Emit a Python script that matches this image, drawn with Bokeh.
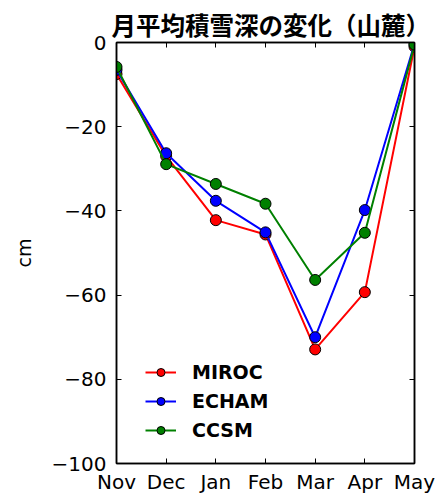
from bokeh.plotting import figure
from bokeh.models import LinearAxis, FixedTicker, Legend, LegendItem, Range1d
from bokeh.embed import file_html
from bokeh.resources import INLINE

months = ["Nov", "Dec", "Jan", "Feb", "Mar", "Apr", "May"]
miroc = [-7.5, -27.0, -42.2, -45.6, -72.9, -59.3, -1.0]
echam = [-6.5, -26.3, -37.6, -45.1, -70.0, -39.8, -0.3]
ccsm = [-5.8, -28.9, -33.6, -38.3, -56.4, -45.2, -0.5]
y_ticks = [-100, -80, -60, -40, -20, 0]
title_text = "月平均積雪深の変化（山麓）"

xs = list(range(len(months)))

p = figure(width=438, height=498, x_range=Range1d(0, 6), y_range=Range1d(-100, 0),
           output_backend="svg", toolbar_location=None,
           min_border_left=116, min_border_right=24, min_border_top=42, min_border_bottom=35)
p.grid.visible = False
p.background_fill_color = "white"
p.border_fill_color = "white"
p.outline_line_color = "black"
p.outline_line_width = 1.5

p.title.text = title_text
p.title.text_font = "Noto Sans CJK JP"
p.title.text_font_size = "24.5px"
p.title.text_font_style = "bold"
p.title.text_color = "black"
p.title.align = "left"
p.title.offset = -5
p.title.standoff = 2

tick_font = "DejaVu Sans"
xaxis = p.xaxis[0]
yaxis = p.yaxis[0]
xaxis.ticker = FixedTicker(ticks=xs)
xaxis.major_label_overrides = {i: m for i, m in enumerate(months)}
yaxis.ticker = FixedTicker(ticks=y_ticks)
yaxis.major_label_overrides = {t: ("−" + str(-t) if t < 0 else str(t)) for t in y_ticks}
yaxis.axis_label = "cm"
yaxis.axis_label_text_font = tick_font
yaxis.axis_label_text_font_size = "19px"
yaxis.axis_label_text_font_style = "normal"
yaxis.axis_label_text_color = "black"
yaxis.axis_label_standoff = 14
for ax in (xaxis, yaxis):
    ax.major_label_text_font = tick_font
    ax.major_label_text_font_size = "20px"
    ax.major_label_text_color = "black"
    ax.major_tick_in = 5
    ax.major_tick_out = 0
    ax.minor_tick_line_color = None
    ax.axis_line_width = 1.5
    ax.major_tick_line_width = 1
xaxis.major_label_standoff = 6
yaxis.major_label_standoff = 10

top = LinearAxis(ticker=FixedTicker(ticks=xs),
                 major_label_overrides={i: "" for i in xs},
                 major_tick_in=5, major_tick_out=0, major_label_standoff=0,
                 minor_tick_line_color=None, axis_line_width=1.5)
right = LinearAxis(ticker=FixedTicker(ticks=y_ticks),
                   major_label_overrides={t: "" for t in y_ticks},
                   major_tick_in=5, major_tick_out=0, major_label_standoff=0,
                   minor_tick_line_color=None, axis_line_width=1.5)
p.add_layout(top, "above")
p.add_layout(right, "right")

items = []
for name, vals, col in (("MIROC", miroc, "red"), ("ECHAM", echam, "blue"), ("CCSM", ccsm, "green")):
    l = p.line(xs, vals, line_color=col, line_width=2)
    s = p.scatter(xs, vals, size=11, fill_color=col, line_color="black", line_width=1)
    items.append(LegendItem(label=name, renderers=[l, s]))

legend = Legend(items=items, location=(29, 22), glyph_width=31, glyph_height=20,
                label_height=20, label_text_font="DejaVu Sans", label_text_font_style="bold",
                label_text_font_size="19px", label_text_color="black", label_standoff=16,
                spacing=7, padding=0, margin=0,
                border_line_alpha=0, background_fill_alpha=0)
p.add_layout(legend)

open("out.html", "w").write(file_html(p, INLINE))
